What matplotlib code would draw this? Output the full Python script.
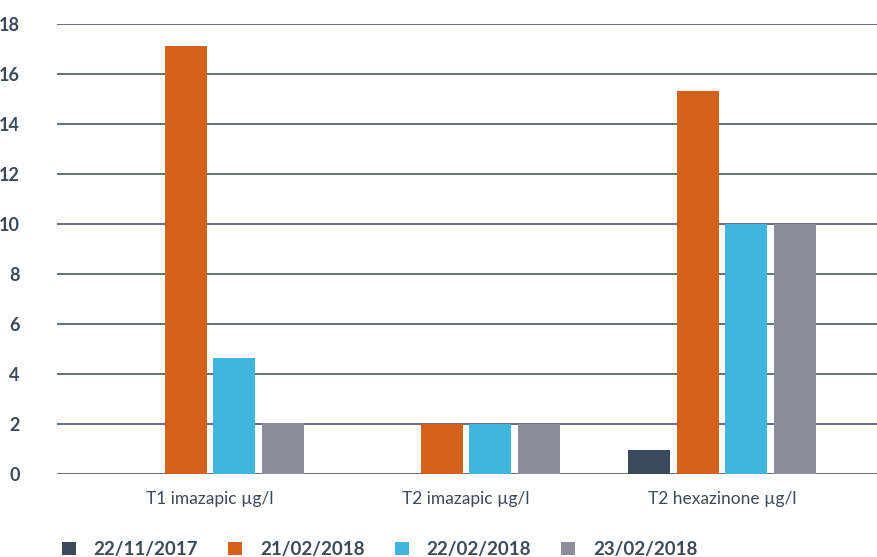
import matplotlib.pyplot as plt
import numpy as np

categories = ["T1 imazapic µg/l", "T2 imazapic µg/l", "T2 hexazinone µg/l"]
dates = ["22/11/2017", "21/02/2018", "22/02/2018", "23/02/2018"]
s_2211 = [0, 0, 0.97]
s_2102 = [17.12, 2.0, 15.32]
s_2202 = [4.65, 2.0, 10.0]
s_2302 = [2.05, 2.0, 10.0]
colors = ["#3a4a5c", "#d5601b", "#3fb5e0", "#8b8d99"]

plt.rcParams['font.family'] = ['Lato', 'DejaVu Sans']
ink = "#3b4a5a"

fig = plt.figure(figsize=(8.77, 5.57), dpi=100)
ax = fig.add_axes([57/877, 83/557, 820/877, 450/557])

x = np.arange(len(categories))
w = 0.164
step = 0.19
series = [s_2211, s_2102, s_2202, s_2302]
for i, (vals, lab, c) in enumerate(zip(series, dates, colors)):
    ax.bar(x + (i - 1.5) * step, vals, width=w, color=c, label=lab, zorder=3)

ax.set_ylim(0, 18)
ax.set_xlim(-0.598, 2.605)
ax.set_yticks(range(0, 19, 2))
ax.set_xticks(x)
ax.set_xticklabels(categories)
ax.yaxis.grid(True, color="#4a5668", linewidth=1.2, zorder=0)
for s in ax.spines.values():
    s.set_visible(False)
ax.tick_params(axis='both', length=0)
ax.tick_params(axis='y', pad=27, labelsize=13, labelcolor=ink)
ax.tick_params(axis='x', pad=12, labelsize=12.5, labelcolor=ink)

fig.canvas.draw()
for t in ax.yaxis.get_ticklabels():
    t.set_fontweight('bold')

fig.legend(loc='lower left', bbox_to_anchor=(45/877, -0.032), ncol=4, frameon=False,
           prop={'weight': 'bold', 'size': 13.5}, labelcolor=ink,
           handlelength=0.75, handleheight=0.75, handletextpad=0.95, columnspacing=1.6)

fig.savefig("out.png", dpi=100)
